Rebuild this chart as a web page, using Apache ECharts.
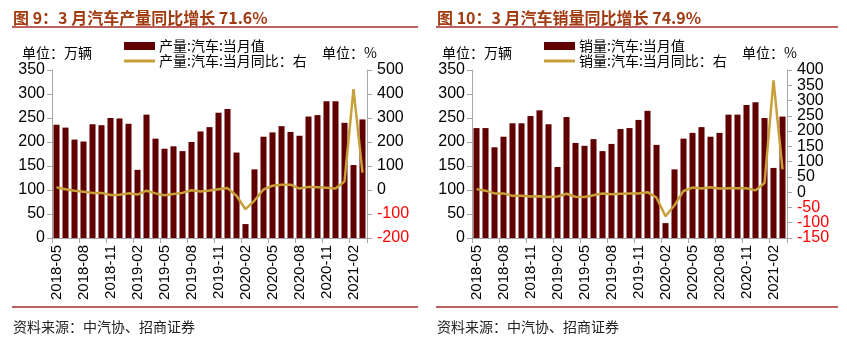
<!DOCTYPE html>
<html><head><meta charset="utf-8">
<script src="https://cdn.jsdelivr.net/npm/echarts@6/dist/echarts.min.js"></script>
<style>html,body{margin:0;padding:0;background:#fff}#c{width:847px;height:342px}</style>
</head><body><div id="c"></div>
<script>
const categories = ['2018-05','2018-06','2018-07','2018-08','2018-09','2018-10','2018-11','2018-12',
  '2019-01','2019-02','2019-03','2019-04','2019-05','2019-06','2019-07','2019-08','2019-09','2019-10','2019-11','2019-12',
  '2020-01','2020-02','2020-03','2020-04','2020-05','2020-06','2020-07','2020-08','2020-09','2020-10','2020-11','2020-12',
  '2021-01','2021-02','2021-03'];
const prodValues = [236,230,205,201,237,235,250,249,238,142,257,207,186,191,181,200,222,231,261,269,178,29,143,211,220,233,221,213,253,256,285,285,240,152,247];
const prodYoY = [11,3,-3,-7,-12,-12,-21,-20,-14,-19,-3,-14,-22,-17,-12,-1,-6,-2,3,8,-24,-80,-44,2,18,22,22,6,13,11,9,6,35,420,72];
const salesValues = [229,229,189,211,239,239,254,266,237,148,252,198,192,206,181,196,227,229,246,265,194,31,143,207,219,231,211,219,257,257,277,283,250,146,253];
const salesYoY = [10,5,-4,-4,-12,-12,-14,-13,-16,-14,-5,-15,-16,-10,-4,-7,-5,-4,-4,0,-18,-79,-43,4,15,12,16,12,13,13,13,6,30,366,75];
// axis ranges: [min, max, interval]
const volumeAxis = [0, 350, 50];
const prodYoYAxis = [-200, 500, 100];
const salesYoYAxis = [-150, 400, 50];

const titles = ['图 9：3 月汽车产量同比增长 71.6%', '图 10：3 月汽车销量同比增长 74.9%'];
const barNames = ['产量:汽车:当月值', '销量:汽车:当月值'];
const lineNames = ['产量:汽车:当月同比：右', '销量:汽车:当月同比：右'];
const unitLeft = '单位：万辆';
const unitRight = '单位：%';
const source = '资料来源：中汽协、招商证券';

const BAR = '#600000', LINE = '#C8A03A', AX = '#A6A6A6';
const CJK = '"Noto Sans CJK SC"';
const NUM = '"Liberation Sans", Arial';

const chart = echarts.init(document.getElementById('c'), null, {renderer: 'canvas'});

const panels = [
  {x0: 12, x1: 418, gridL: 52, gridR: 367, bar: prodValues, line: prodYoY, rAx: prodYoYAxis},
  {x0: 436, x1: 838, gridL: 472, gridR: 787, bar: salesValues, line: salesYoY, rAx: salesYoYAxis}
];

const fmt = v => v < 0 ? '{r|' + v + '}' : '{b|' + v + '}';
const rich = {r: {color: '#FF0000', fontSize: 16, fontFamily: NUM},
              b: {color: '#000', fontSize: 16, fontFamily: NUM}};

const grid = [], xAxis = [], yAxis = [], series = [], legend = [], graphic = [];
panels.forEach((p, i) => {
  grid.push({left: p.gridL, right: 847 - p.gridR, top: 70, bottom: 104, containLabel: false});
  xAxis.push({
    type: 'category', gridIndex: i, data: categories, boundaryGap: true,
    axisLine: {lineStyle: {color: AX, width: 1}},
    axisTick: {show: true, interval: 2, length: 5, lineStyle: {color: AX}},
    axisLabel: {interval: 2, rotate: 90, margin: 7, color: '#000', fontSize: 15, fontFamily: NUM}
  });
  yAxis.push({
    type: 'value', gridIndex: i, position: 'left',
    min: volumeAxis[0], max: volumeAxis[1], interval: volumeAxis[2],
    splitLine: {show: false},
    axisLine: {show: true, lineStyle: {color: AX}},
    axisTick: {show: true, length: 5, lineStyle: {color: AX}},
    axisLabel: {margin: 7, color: '#000', fontSize: 16, fontFamily: NUM, showMinLabel: true, showMaxLabel: true}
  });
  const dense = i === 1;
  yAxis.push({
    type: 'value', gridIndex: i, position: 'right',
    min: p.rAx[0], max: p.rAx[1], interval: p.rAx[2],
    splitLine: {show: false},
    axisLine: {show: true, lineStyle: {color: AX}},
    axisTick: {show: true, length: 5, lineStyle: {color: AX}},
    axisLabel: {margin: 10, formatter: fmt, rich,
      showMinLabel: !dense, showMaxLabel: !dense}
  });
  series.push({
    name: barNames[i], type: 'bar', xAxisIndex: i, yAxisIndex: i * 2, data: p.bar,
    barCategoryGap: '33%', itemStyle: {color: BAR}
  });
  series.push({
    name: lineNames[i], type: 'line', xAxisIndex: i, yAxisIndex: i * 2 + 1, data: p.line,
    symbol: 'none', showSymbol: false, lineStyle: {color: LINE, width: 2.5}, itemStyle: {color: LINE}, z: 5
  });
  const lx = p.gridL + 72;
  legend.push({
    data: [{name: barNames[i], icon: 'rect'}], left: lx, top: 39, itemWidth: 31, itemHeight: 8, itemGap: 0,
    textStyle: {fontFamily: CJK, fontSize: 14, color: '#000', padding: [0, 0, 0, -1]},
    selectedMode: false, padding: 0
  });
  legend.push({
    data: [{name: lineNames[i], icon: 'rect', itemStyle: {color: LINE}}], left: lx, top: 54, itemWidth: 31, itemHeight: 3, itemGap: 0,
    textStyle: {fontFamily: CJK, fontSize: 14, color: '#000', padding: [0, 0, 0, -1]},
    selectedMode: false, padding: 0
  });
  graphic.push(
    {type: 'text', style: {text: titles[i], x: p.x0 + 1, y: 18, verticalAlign: 'middle',
      font: 'bold 16px ' + CJK, fill: '#A13C12'}},
    {type: 'line', shape: {x1: p.x0, y1: 27, x2: p.x1, y2: 27}, style: {stroke: '#A52A2A', lineWidth: 1.5}},
    {type: 'text', style: {text: unitLeft, x: p.gridL - 30, y: 53, verticalAlign: 'middle',
      font: '14px ' + CJK, fill: '#000'}},
    {type: 'text', style: {text: unitRight, x: p.gridR - 45, y: 53, verticalAlign: 'middle',
      font: '14px ' + CJK, fill: '#000'}},
    {type: 'line', shape: {x1: p.x0, y1: 307, x2: p.x1, y2: 307}, style: {stroke: '#A52A2A', lineWidth: 1.5}},
    {type: 'text', style: {text: source, x: p.x0 + 1, y: 327, verticalAlign: 'middle',
      font: '14px ' + CJK, fill: '#222'}}
  );
});
// end labels of the dense right axis (panel 2), same scale, drawn by a twin axis
yAxis.push({
  type: 'value', gridIndex: 1, position: 'right',
  min: salesYoYAxis[0], max: salesYoYAxis[1], interval: salesYoYAxis[1] - salesYoYAxis[0],
  splitLine: {show: false},
  axisLine: {show: false},
  axisTick: {show: true, length: 5, lineStyle: {color: AX}},
  axisLabel: {margin: 10, formatter: fmt, rich, showMinLabel: true, showMaxLabel: true}
});

chart.setOption({
  animation: false,
  backgroundColor: '#fff',
  grid, xAxis, yAxis, series, legend, graphic
});
</script>
</body></html>
